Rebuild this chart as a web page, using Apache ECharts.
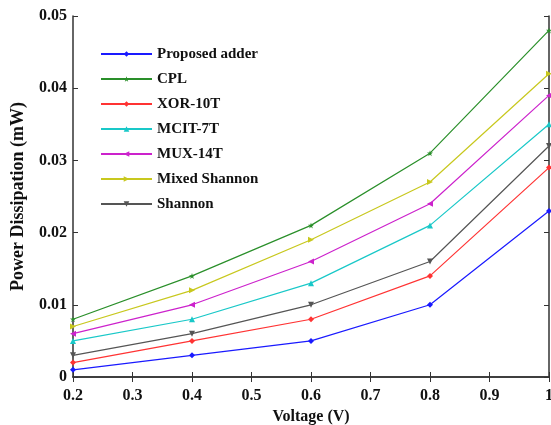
<!DOCTYPE html>
<html><head><meta charset="utf-8">
<script src="https://cdn.jsdelivr.net/npm/echarts@6/dist/echarts.min.js"></script>
<style>html,body{margin:0;padding:0;background:#fff;}#c{width:551px;height:425px;}</style>
</head><body><div id="c"></div>
<script>
const voltage = [0.2, 0.4, 0.6, 0.8, 1.0];
const seriesNames = ["Proposed adder", "CPL", "XOR-10T", "MCIT-7T", "MUX-14T", "Mixed Shannon", "Shannon"];
const proposedAdder = [0.001, 0.003, 0.005, 0.010, 0.023];
const cpl = [0.008, 0.014, 0.021, 0.031, 0.048];
const xor10T = [0.002, 0.005, 0.008, 0.014, 0.029];
const mcit7T = [0.005, 0.008, 0.013, 0.021, 0.035];
const mux14T = [0.006, 0.010, 0.016, 0.024, 0.039];
const mixedShannon = [0.007, 0.012, 0.019, 0.027, 0.042];
const shannon = [0.003, 0.006, 0.010, 0.016, 0.032];
const seriesValues = [proposedAdder, cpl, xor10T, mcit7T, mux14T, mixedShannon, shannon];

const colors = ['#1a1aff', '#2a8f2a', '#ff3333', '#19c8c8', '#cc22cc', '#c8c81e', '#555555'];
const star = 'path://M50,0 L61,35 L98,35 L68,57 L79,91 L50,70 L21,91 L32,57 L2,35 L39,35 Z';
const symbols = ['diamond', star, 'diamond', 'triangle', 'path://M0,50 L100,0 L100,100 Z', 'path://M100,50 L0,0 L0,100 Z', 'path://M0,0 L100,0 L50,100 Z'];

const font = '"Liberation Serif", "Times New Roman", serif';
const axisColor = '#333';

const chart = echarts.init(document.getElementById('c'), null, {renderer: 'canvas'});
const xCommon = {type: 'value', min: 0.2, max: 1, interval: 0.1,
  axisLine: {lineStyle: {color: axisColor, width: 1.5}}, splitLine: {show: false},
  axisTick: {inside: true, length: 5, lineStyle: {color: axisColor, width: 1}}};
const yCommon = {type: 'value', min: 0, max: 0.05, interval: 0.01,
  axisLine: {show: true, lineStyle: {color: axisColor, width: 1.5}}, splitLine: {show: false},
  axisTick: {show: true, inside: true, length: 5, lineStyle: {color: axisColor, width: 1}}};

chart.setOption({
  animation: false,
  backgroundColor: '#fff',
  grid: {left: 73, right: 2, top: 16, bottom: 48, containLabel: false, outerBoundsMode: 'none'},
  xAxis: [
    Object.assign({}, xCommon, {position: 'bottom',
      name: 'Voltage (V)', nameLocation: 'middle', nameGap: 23,
      nameTextStyle: {fontFamily: font, fontWeight: 'bold', fontSize: 16, color: '#111'},
      axisLabel: {margin: 11, fontFamily: font, fontWeight: 'bold', fontSize: 16, color: '#111',
        formatter: v => String(parseFloat(v.toFixed(1)))}}),
    Object.assign({}, xCommon, {position: 'top', axisLabel: {show: false}})
  ],
  yAxis: [
    Object.assign({}, yCommon, {position: 'left',
      name: 'Power Dissipation (mW)', nameLocation: 'middle', nameGap: 46,
      nameTextStyle: {fontFamily: font, fontWeight: 'bold', fontSize: 18, color: '#111'},
      axisLabel: {margin: 6, fontFamily: font, fontWeight: 'bold', fontSize: 16, color: '#111',
        formatter: v => v === 0 ? '0' : v.toFixed(2)}}),
    Object.assign({}, yCommon, {position: 'right', axisLabel: {show: false}})
  ],
  legend: {
    orient: 'vertical', left: 100, top: 46, padding: 0,
    itemWidth: 51, itemHeight: 7, itemGap: 9,
    textStyle: {fontFamily: font, fontWeight: 'bold', fontSize: 15, color: '#111', lineHeight: 16},
    data: seriesNames
  },
  series: seriesNames.map((name, i) => ({
    name: name, type: 'line',
    data: voltage.map((x, j) => [x, seriesValues[i][j]]),
    symbol: symbols[i], symbolSize: 6, showSymbol: true,
    lineStyle: {width: 1.2, color: colors[i]},
    itemStyle: {color: colors[i]},
    z: 10 - i
  }))
});
</script></body></html>
